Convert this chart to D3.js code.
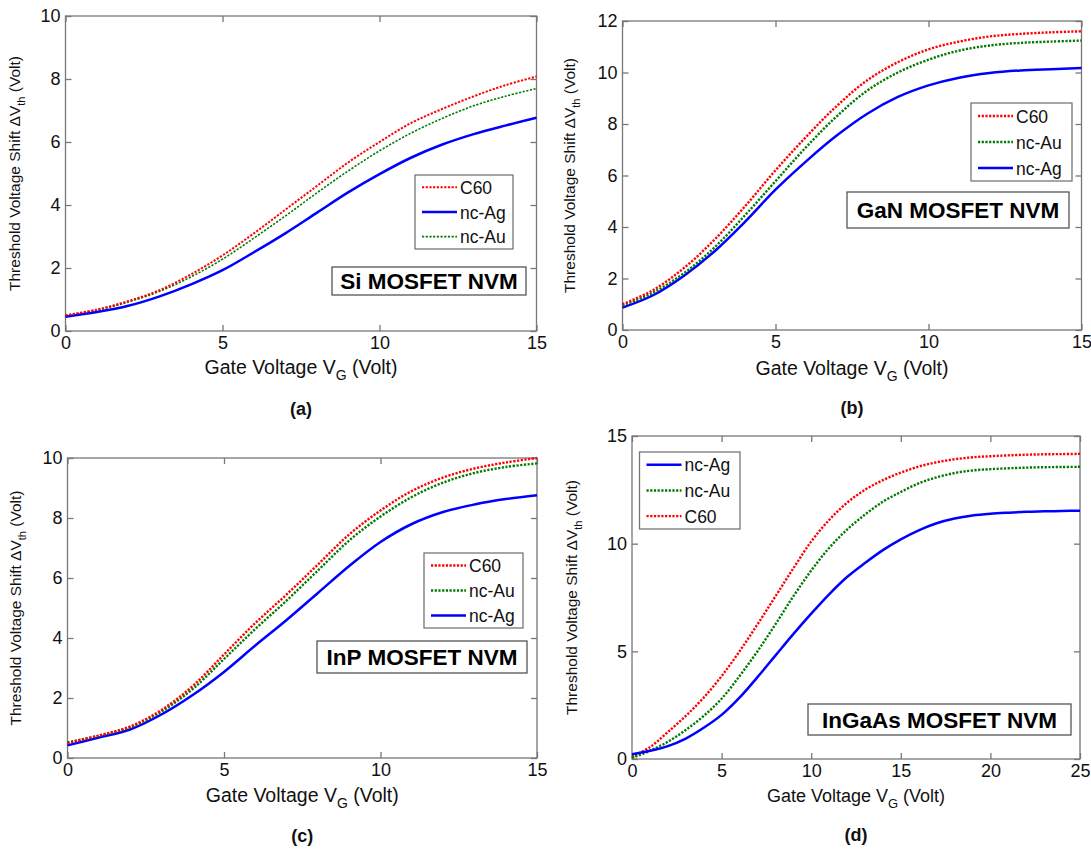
<!DOCTYPE html>
<html>
<head>
<meta charset="utf-8">
<script src="https://cdn.jsdelivr.net/npm/d3@7"></script>
<style>
  body { margin: 0; background: #fff; }
  svg { font-family: "Liberation Sans", Arial, sans-serif; }
</style>
</head>
<body>
<div id="fig"></div>
<script>
// gate voltage samples
const vgA = d3.range(0, 16);
const vgD = d3.range(0, 26);

// (a) Si MOSFET NVM
const siC60 = [0.50, 0.68, 0.95, 1.30, 1.80, 2.40, 3.10, 3.85, 4.60, 5.35, 6.00, 6.60, 7.05, 7.45, 7.80, 8.08];
const siAu  = [0.50, 0.66, 0.92, 1.26, 1.72, 2.28, 2.95, 3.65, 4.38, 5.08, 5.72, 6.28, 6.75, 7.15, 7.45, 7.70];
const siAg  = [0.45, 0.60, 0.80, 1.10, 1.48, 1.93, 2.50, 3.10, 3.75, 4.40, 4.98, 5.50, 5.92, 6.25, 6.52, 6.77];

// (b) GaN MOSFET NVM
const ganC60 = [1.00, 1.55, 2.40, 3.50, 4.80, 6.20, 7.50, 8.70, 9.70, 10.40, 10.90, 11.20, 11.40, 11.50, 11.56, 11.60];
const ganAu  = [0.95, 1.45, 2.20, 3.20, 4.45, 5.78, 7.10, 8.30, 9.30, 10.00, 10.50, 10.85, 11.05, 11.15, 11.20, 11.24];
const ganAg  = [0.87, 1.35, 2.10, 3.05, 4.20, 5.45, 6.55, 7.55, 8.40, 9.05, 9.50, 9.80, 9.98, 10.08, 10.13, 10.17];

// (c) InP MOSFET NVM
const inpC60 = [0.50, 0.75, 1.05, 1.60, 2.40, 3.45, 4.50, 5.45, 6.45, 7.45, 8.25, 8.90, 9.35, 9.65, 9.85, 10.00];
const inpAu  = [0.52, 0.74, 1.02, 1.55, 2.30, 3.30, 4.30, 5.25, 6.25, 7.25, 8.05, 8.70, 9.18, 9.50, 9.70, 9.82];
const inpAg  = [0.42, 0.68, 0.95, 1.45, 2.10, 2.87, 3.75, 4.60, 5.50, 6.40, 7.20, 7.80, 8.20, 8.45, 8.63, 8.76];

// (d) InGaAs MOSFET NVM
const ingC60 = [0.10, 0.55, 1.25, 2.00, 2.85, 3.85, 5.00, 6.25, 7.55, 8.85, 10.10, 11.10, 11.90, 12.50, 12.95, 13.30, 13.58, 13.78, 13.92, 14.01, 14.06, 14.10, 14.13, 14.15, 14.16, 14.17];
const ingAu  = [0.05, 0.38, 0.80, 1.35, 2.00, 2.80, 3.85, 5.00, 6.25, 7.55, 8.75, 9.80, 10.65, 11.35, 11.95, 12.40, 12.80, 13.08, 13.28, 13.40, 13.46, 13.50, 13.53, 13.55, 13.56, 13.57];
const ingAg  = [0.22, 0.38, 0.60, 0.95, 1.45, 2.05, 2.85, 3.80, 4.80, 5.80, 6.75, 7.65, 8.45, 9.10, 9.70, 10.20, 10.62, 10.95, 11.17, 11.31, 11.39, 11.44, 11.48, 11.50, 11.52, 11.53];

const xTicks15 = [0, 5, 10, 15];
const xTicks25 = [0, 5, 10, 15, 20, 25];

const colors = { "C60": "#ff0000", "nc-Au": "#007a00", "nc-Ag": "#0000ff" };

const panels = [
  { tag: "(a)", title: "Si MOSFET NVM", x0: 65.5, x1: 536.5, y0: 16, y1: 331,
    xmax: 15, ymax: 10, xt: xTicks15, yt: d3.range(0, 11, 2), vg: vgA,
    series: [["C60", siC60], ["nc-Ag", siAg], ["nc-Au", siAu]],
    widths: { "C60": 2, "nc-Au": 1.6, "nc-Ag": 2.5 },
    leg: [415, 175, 98, 74], box: [332, 267, 194, 28], ylx: 20, xlY: 374, capY: 415, xlSize: 19.5 },
  { tag: "(b)", title: "GaN MOSFET NVM", x0: 622.5, x1: 1081.5, y0: 21, y1: 330,
    xmax: 15, ymax: 12, xt: xTicks15, yt: d3.range(0, 13, 2), vg: vgA,
    series: [["C60", ganC60], ["nc-Au", ganAu], ["nc-Ag", ganAg]],
    widths: { "C60": 2.4, "nc-Au": 2.4, "nc-Ag": 2.5 },
    leg: [971, 103, 101, 78], box: [847, 192, 222, 36], ylx: 575, xlY: 375, capY: 414, xlSize: 19.5 },
  { tag: "(c)", title: "InP MOSFET NVM", x0: 67.5, x1: 537, y0: 458, y1: 758,
    xmax: 15, ymax: 10, xt: xTicks15, yt: d3.range(0, 11, 2), vg: vgA,
    series: [["C60", inpC60], ["nc-Au", inpAu], ["nc-Ag", inpAg]],
    widths: { "C60": 2.4, "nc-Au": 2.4, "nc-Ag": 2.5 },
    leg: [424, 553, 99, 75], box: [317, 641, 210, 32], ylx: 21, xlY: 802, capY: 842, xlSize: 19.5 },
  { tag: "(d)", title: "InGaAs MOSFET NVM", x0: 632, x1: 1080, y0: 436, y1: 759,
    xmax: 25, ymax: 15, xt: xTicks25, yt: [0, 5, 10, 15], vg: vgD,
    series: [["nc-Ag", ingAg], ["nc-Au", ingAu], ["C60", ingC60]],
    widths: { "C60": 2.4, "nc-Au": 2.4, "nc-Ag": 2.5 },
    leg: [639.5, 452, 100.5, 77], box: [808, 704, 263, 31], ylx: 577, xlY: 802, capY: 841, xlSize: 18 }
];

const svg = d3.select("#fig").append("svg")
  .attr("width", 1091).attr("height", 849);

panels.forEach(p => {
  const g = svg.append("g");
  const x = d3.scaleLinear().domain([0, p.xmax]).range([p.x0, p.x1]);
  const y = d3.scaleLinear().domain([0, p.ymax]).range([p.y1, p.y0]);

  // box frame
  g.append("rect")
    .attr("x", p.x0).attr("y", p.y0)
    .attr("width", p.x1 - p.x0).attr("height", p.y1 - p.y0)
    .attr("fill", "none").attr("stroke", "#777").attr("stroke-width", 1.3);

  const axes = [
    [d3.axisBottom(x).tickValues(p.xt).tickFormat(d3.format("d")), p.y1, 0, true],
    [d3.axisTop(x).tickValues(p.xt).tickFormat(""), p.y0, 0, false],
    [d3.axisLeft(y).tickValues(p.yt).tickFormat(d3.format("d")), 0, p.x0, true],
    [d3.axisRight(y).tickValues(p.yt).tickFormat(""), 0, p.x1, false]
  ];
  axes.forEach(([ax, ty, tx, lab]) => {
    const a = g.append("g")
      .attr("transform", `translate(${tx},${ty})`)
      .call(ax.tickSizeInner(-6).tickSizeOuter(0).tickPadding(lab ? 5 : 0));
    a.select(".domain").remove();
    a.selectAll(".tick line").attr("stroke", "#777").attr("stroke-width", 1.3);
    a.selectAll("text").attr("fill", "#111").style("font-size", "18px");
  });

  // curves
  const line = d3.line()
    .x((d, i) => x(p.vg[i]))
    .y(d => y(d))
    .curve(d3.curveCatmullRom.alpha(0.5));

  const dashOf = name => name === "nc-Ag" ? null : "2.2,1.5";

  p.series.slice().reverse().forEach(([name, vals]) => {
    g.append("path")
      .datum(vals)
      .attr("d", line)
      .attr("fill", "none")
      .attr("stroke", colors[name])
      .attr("stroke-width", p.widths[name])
      .attr("stroke-dasharray", dashOf(name));
  });

  // legend
  const [lx, ly, lw, lh] = p.leg;
  g.append("rect").attr("x", lx).attr("y", ly).attr("width", lw).attr("height", lh)
    .attr("fill", "#fff").attr("stroke", "#777").attr("stroke-width", 1.3);
  const rowH = lh / 3;
  p.series.forEach(([name], i) => {
    const cy = ly + rowH * (i + 0.5);
    g.append("line")
      .attr("x1", lx + 7).attr("x2", lx + 42).attr("y1", cy).attr("y2", cy)
      .attr("stroke", colors[name]).attr("stroke-width", p.widths[name])
      .attr("stroke-dasharray", dashOf(name));
    g.append("text")
      .attr("x", lx + 45).attr("y", cy + 6.5)
      .style("font-size", "17.5px").attr("fill", "#111")
      .text(name);
  });

  // material label box
  const [bx, by, bw, bh] = p.box;
  g.append("rect").attr("x", bx).attr("y", by).attr("width", bw).attr("height", bh)
    .attr("fill", "#fff").attr("stroke", "#555").attr("stroke-width", 1.3);
  g.append("text")
    .attr("x", bx + bw / 2).attr("y", by + bh / 2 + 8)
    .attr("text-anchor", "middle")
    .style("font-size", "22.5px").style("font-weight", "bold").attr("fill", "#000")
    .text(p.title);

  // x label
  const xl = g.append("text")
    .attr("x", (p.x0 + p.x1) / 2).attr("y", p.xlY)
    .attr("text-anchor", "middle")
    .style("font-size", p.xlSize + "px").attr("fill", "#111");
  xl.append("tspan").text("Gate Voltage V");
  xl.append("tspan").attr("dy", 6).style("font-size", (p.xlSize * 0.72) + "px").text("G");
  xl.append("tspan").attr("dy", -6).text(" (Volt)");

  // y label
  const yc = (p.y0 + p.y1) / 2;
  const yl = g.append("text")
    .attr("transform", `translate(${p.ylx},${yc}) rotate(-90)`)
    .attr("text-anchor", "middle")
    .style("font-size", "15.5px").attr("fill", "#111");
  yl.append("tspan").text("Threshold Voltage Shift \u0394V");
  yl.append("tspan").attr("dy", 5).style("font-size", "11px").text("th");
  yl.append("tspan").attr("dy", -5).text(" (Volt)");

  // caption
  g.append("text")
    .attr("x", (p.x0 + p.x1) / 2).attr("y", p.capY)
    .attr("text-anchor", "middle")
    .style("font-size", "18px").style("font-weight", "bold").attr("fill", "#111")
    .text(p.tag);
});
</script>
</body>
</html>
